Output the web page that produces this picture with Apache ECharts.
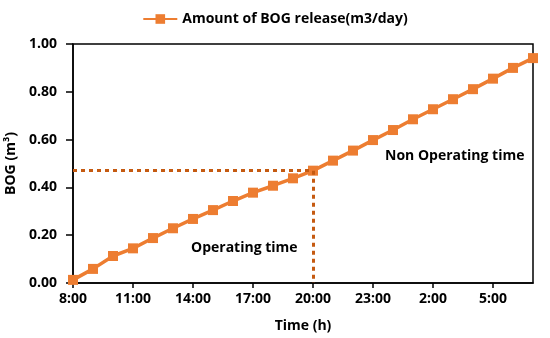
<!DOCTYPE html>
<html><head><meta charset="utf-8">
<script src="https://cdn.jsdelivr.net/npm/echarts@6/dist/echarts.min.js"></script>
<style>html,body{margin:0;padding:0;background:#fff}#c{width:550px;height:338px}</style>
</head><body><div id="c"></div>
<script>
const categories = ['8:00','9:00','10:00','11:00','12:00','13:00','14:00','15:00','16:00','17:00','18:00','19:00','20:00','21:00','22:00','23:00','0:00','1:00','2:00','3:00','4:00','5:00','6:00','7:00'];
const bogValues = [0.013,0.059,0.113,0.145,0.188,0.229,0.268,0.305,0.343,0.378,0.407,0.438,0.470,0.512,0.554,0.598,0.640,0.685,0.727,0.769,0.811,0.855,0.900,0.941];
const seriesName = 'Amount of BOG release(m3/day)';
const switchTime = '20:00';
const switchValue = 0.47;
const FONT = 'Open Sans';
const chart = echarts.init(document.getElementById('c'));
chart.setOption({
  animation: false,
  textStyle: {fontFamily: FONT},
  legend: {
    top: 7, left: 'center',
    itemWidth: 34, itemHeight: 12, itemGap: 4,
    textStyle: {fontFamily: FONT, fontWeight: 'bold', fontSize: 14, color: '#000'},
    data: [{name: seriesName}]
  },
  grid: {left: 73, right: 17, top: 44, bottom: 55, outerBoundsMode: 'none', containLabel: false, show: true, borderColor: '#000', borderWidth: 1.5, backgroundColor: 'transparent'},
  xAxis: {
    type: 'category', data: categories, boundaryGap: false,
    name: 'Time (h)', nameLocation: 'middle', nameGap: 36,
    nameTextStyle: {fontFamily: FONT, fontWeight: 'bold', fontSize: 14, color: '#000'},
    axisLine: {lineStyle: {color: '#000', width: 1.5}},
    axisTick: {interval: 2, length: 5, lineStyle: {color: '#000', width: 1.5}},
    axisLabel: {interval: 2, fontFamily: FONT, fontWeight: 'bold', fontSize: 14, color: '#000', margin: 9},
    splitLine: {show: false}
  },
  yAxis: {
    type: 'value', min: 0, max: 1, interval: 0.2,
    name: 'BOG (m³)', nameLocation: 'middle', nameGap: 47, nameRotate: 90,
    nameTextStyle: {fontFamily: FONT, fontWeight: 'bold', fontSize: 14, color: '#000'},
    axisLine: {show: true, lineStyle: {color: '#000', width: 1.5}},
    axisTick: {show: true, length: 7, lineStyle: {color: '#000', width: 1.5}},
    axisLabel: {fontFamily: FONT, fontWeight: 'bold', fontSize: 14, color: '#000', margin: 16, formatter: v => v.toFixed(2)},
    splitLine: {show: false}
  },
  graphic: [
    {type: 'text', left: 191, top: 241, style: {text: 'Operating time', font: 'bold 14px "Open Sans"', fill: '#000'}},
    {type: 'text', left: 385, top: 149, style: {text: 'Non Operating time', font: 'bold 14px "Open Sans"', fill: '#000'}}
  ],
  series: [{
    name: seriesName, type: 'line', data: bogValues,
    symbol: 'rect', symbolSize: 10,
    lineStyle: {color: '#ED7D31', width: 3.5},
    itemStyle: {color: '#ED7D31'},
    z: 3,
    markLine: {
      silent: true, symbol: 'none', label: {show: false},
      lineStyle: {color: '#C55A11', width: 3, type: [4, 4]},
      data: [
        [{coord: [categories[0], switchValue]}, {coord: [switchTime, switchValue]}],
        [{coord: [switchTime, switchValue]}, {coord: [switchTime, 0]}]
      ]
    }
  }]
});
</script></body></html>
